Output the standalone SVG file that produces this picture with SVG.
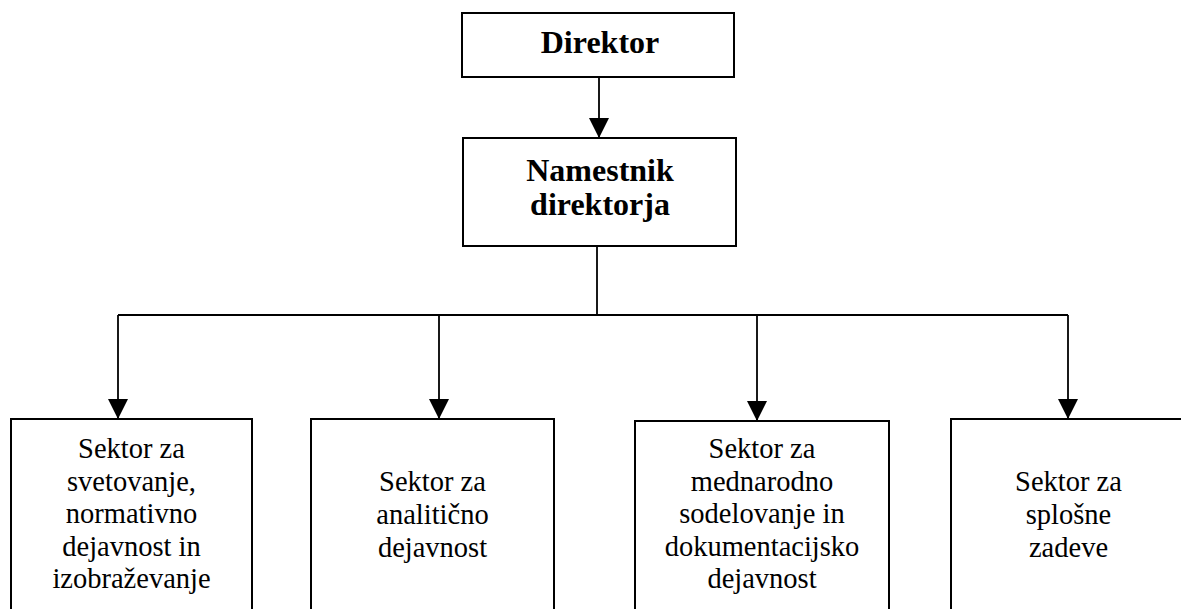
<svg xmlns="http://www.w3.org/2000/svg" width="1181" height="609" viewBox="0 0 1181 609">
  <defs>
    <marker id="arrow" markerUnits="userSpaceOnUse" markerWidth="20" markerHeight="20" viewBox="0 0 20 20" refX="20" refY="10" orient="auto">
      <path d="M0,0 L20,10 L0,20 z" fill="#000000"/>
    </marker>
  </defs>
  <rect width="1181" height="609" fill="#ffffff"/>

  <g id="connectors" fill="none" stroke="#000000" stroke-width="1.8">
    <line x1="599" y1="77" x2="599" y2="138" marker-end="url(#arrow)"/>
    <polyline points="597,246 597,315"/>
    <polyline points="118,315 1068,315"/>
    <line x1="118" y1="315" x2="118" y2="419" marker-end="url(#arrow)"/>
    <line x1="439" y1="315" x2="439" y2="419" marker-end="url(#arrow)"/>
    <line x1="757" y1="315" x2="757" y2="421" marker-end="url(#arrow)"/>
    <line x1="1068" y1="315" x2="1068" y2="419" marker-end="url(#arrow)"/>
  </g>

  <g id="direktor">
    <rect x="462" y="13" width="272" height="64" fill="#ffffff" stroke="#000000" stroke-width="2"/>
    <text x="600" y="53" font-family="Liberation Serif" font-size="32" font-weight="bold" text-anchor="middle" fill="#000000">Direktor</text>
  </g>

  <g id="namestnik">
    <rect x="463" y="138" width="273" height="108" fill="#ffffff" stroke="#000000" stroke-width="2"/>
    <text x="600" y="181" font-family="Liberation Serif" font-size="32" font-weight="bold" text-anchor="middle" fill="#000000">Namestnik</text>
    <text x="600" y="215" font-family="Liberation Serif" font-size="32" font-weight="bold" text-anchor="middle" fill="#000000">direktorja</text>
  </g>

  <g id="sektor-svetovanje">
    <rect x="11" y="419" width="241" height="200" fill="#ffffff" stroke="#000000" stroke-width="2"/>
    <text x="131.5" y="458" font-family="Liberation Serif" font-size="28.5" text-anchor="middle" fill="#000000">Sektor za</text>
    <text x="131.5" y="490.5" font-family="Liberation Serif" font-size="28.5" text-anchor="middle" fill="#000000">svetovanje,</text>
    <text x="131.5" y="523" font-family="Liberation Serif" font-size="28.5" text-anchor="middle" fill="#000000">normativno</text>
    <text x="131.5" y="555.5" font-family="Liberation Serif" font-size="28.5" text-anchor="middle" fill="#000000">dejavnost in</text>
    <text x="131.5" y="588" font-family="Liberation Serif" font-size="28.5" text-anchor="middle" fill="#000000">izobraževanje</text>
  </g>

  <g id="sektor-analiticno">
    <rect x="311" y="419" width="243" height="200" fill="#ffffff" stroke="#000000" stroke-width="2"/>
    <text x="432.5" y="491" font-family="Liberation Serif" font-size="28.5" text-anchor="middle" fill="#000000">Sektor za</text>
    <text x="432.5" y="524" font-family="Liberation Serif" font-size="28.5" text-anchor="middle" fill="#000000">analitično</text>
    <text x="432.5" y="557" font-family="Liberation Serif" font-size="28.5" text-anchor="middle" fill="#000000">dejavnost</text>
  </g>

  <g id="sektor-mednarodno">
    <rect x="635" y="421" width="254" height="200" fill="#ffffff" stroke="#000000" stroke-width="2"/>
    <text x="762" y="458" font-family="Liberation Serif" font-size="28.5" text-anchor="middle" fill="#000000">Sektor za</text>
    <text x="762" y="490.5" font-family="Liberation Serif" font-size="28.5" text-anchor="middle" fill="#000000">mednarodno</text>
    <text x="762" y="523" font-family="Liberation Serif" font-size="28.5" text-anchor="middle" fill="#000000">sodelovanje in</text>
    <text x="762" y="555.5" font-family="Liberation Serif" font-size="28.5" text-anchor="middle" fill="#000000">dokumentacijsko</text>
    <text x="762" y="588" font-family="Liberation Serif" font-size="28.5" text-anchor="middle" fill="#000000">dejavnost</text>
  </g>

  <g id="sektor-splosne">
    <rect x="951" y="419" width="260" height="200" fill="#ffffff" stroke="#000000" stroke-width="2"/>
    <text x="1068.5" y="491" font-family="Liberation Serif" font-size="28.5" text-anchor="middle" fill="#000000">Sektor za</text>
    <text x="1068.5" y="524" font-family="Liberation Serif" font-size="28.5" text-anchor="middle" fill="#000000">splošne</text>
    <text x="1068.5" y="557" font-family="Liberation Serif" font-size="28.5" text-anchor="middle" fill="#000000">zadeve</text>
  </g>
</svg>
